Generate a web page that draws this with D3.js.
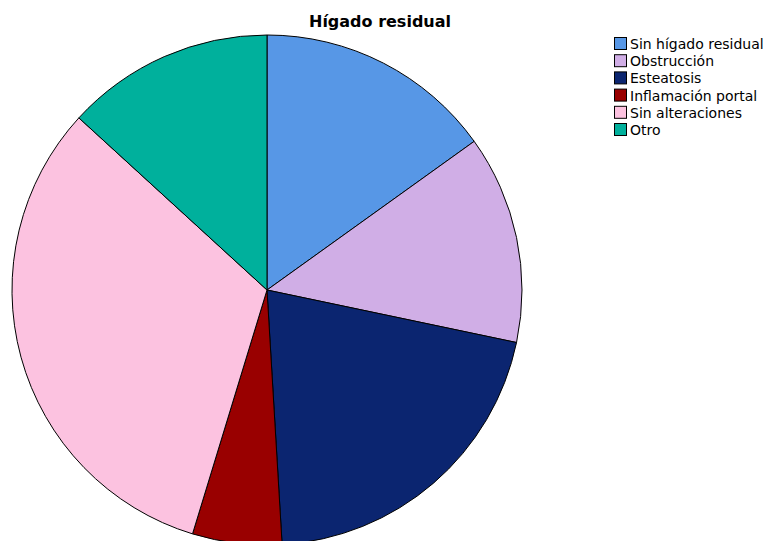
<!DOCTYPE html>
<html>
<head>
<meta charset="utf-8">
<script src="https://cdn.jsdelivr.net/npm/d3@7"></script>
<style>
  html, body { margin: 0; padding: 0; background: #fff; }
  svg { display: block; }
  text { font-family: "DejaVu Sans", Verdana, sans-serif; }
</style>
</head>
<body>
<svg id="chart" width="765" height="541"></svg>
<script>
// Case counts per residual liver finding
const categories = ["Sin hígado residual", "Obstrucción", "Esteatosis", "Inflamación portal", "Sin alteraciones", "Otro"];
const counts = [8, 7, 11, 3, 17, 7];
const colors = ["#5797e6", "#d0aee6", "#0b2570", "#990000", "#fcc2e0", "#00b09c"];
const title = "Hígado residual";

const svg = d3.select("#chart");
const cx = 267, cy = 290, radius = 255;

const data = categories.map((c, i) => ({ name: c, value: counts[i], color: colors[i] }));

const pie = d3.pie().value(d => d.value).sort(null);
const arc = d3.arc().innerRadius(0).outerRadius(radius);

svg.append("g")
  .attr("transform", `translate(${cx},${cy})`)
  .selectAll("path")
  .data(pie(data))
  .join("path")
  .attr("d", arc)
  .attr("fill", d => d.data.color)
  .attr("stroke", "#000")
  .attr("stroke-width", 1)
  .attr("stroke-linejoin", "round");

svg.append("text")
  .attr("x", 380)
  .attr("y", 27)
  .attr("text-anchor", "middle")
  .attr("font-size", 16)
  .attr("font-weight", "bold")
  .attr("fill", "#000")
  .text(title);

const legend = svg.append("g").attr("transform", "translate(614,37)");
const rowH = 17.2;
const rows = legend.selectAll("g")
  .data(data)
  .join("g")
  .attr("transform", (d, i) => `translate(0,${i * rowH})`);

rows.append("rect")
  .attr("x", 0.5).attr("y", 0.5)
  .attr("width", 12).attr("height", 12)
  .attr("fill", d => d.color)
  .attr("stroke", "#000")
  .attr("stroke-width", 1);

rows.append("text")
  .attr("x", 16)
  .attr("y", 12)
  .attr("font-size", 14)
  .attr("fill", "#000")
  .text(d => d.name);
</script>
</body>
</html>
